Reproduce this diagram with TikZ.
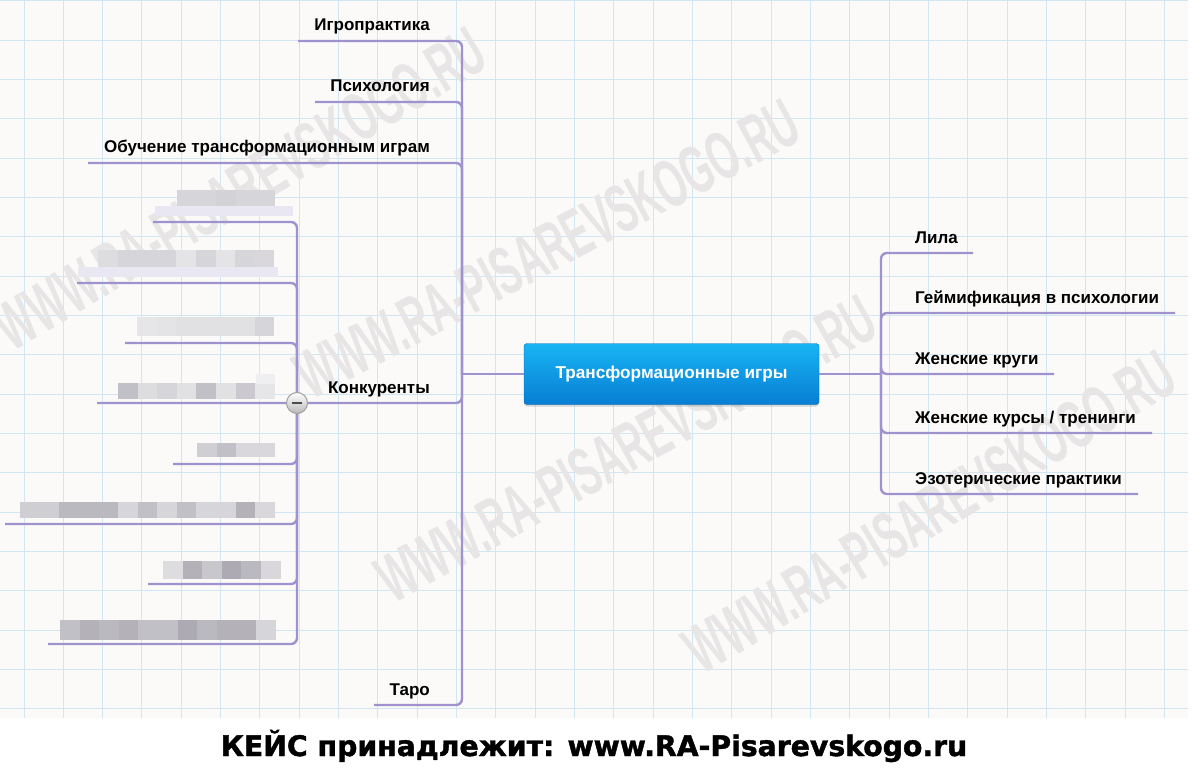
\documentclass[tikz,border=0pt]{standalone}
\usepackage{fontspec}
\setmainfont{Liberation Sans}
\newfontfamily\capfont{DejaVu Sans}[BoldFeatures={FakeBold=1.5}]
\usetikzlibrary{shadows}
\definecolor{gridblue}{RGB}{208,230,243}
\definecolor{paper}{RGB}{251,250,248}
\definecolor{branch}{RGB}{160,146,207}
\definecolor{topblue}{RGB}{24,180,243}
\definecolor{botblue}{RGB}{8,126,212}
\definecolor{wmark}{RGB}{231,229,229}
\definecolor{blurgray}{RGB}{118,114,128}
\definecolor{lavband}{RGB}{233,231,241}
\begin{document}
\begin{tikzpicture}[x=1pt,y=-1pt]

  \tikzset{lbl/.style={font=\bfseries\fontsize{17}{19}\selectfont,inner sep=0pt},
    br/.style={draw=branch,line width=2.4pt,rounded corners=6pt},
    root/.style={draw=botblue!85!black,rounded corners=3pt,top color=topblue,bottom color=botblue,
      minimum width=295pt,minimum height=61pt,text=white,font=\bfseries\fontsize{17.2}{19}\selectfont,
      drop shadow={opacity=0.3,shadow xshift=0pt,shadow yshift=-2pt}},
    minusbtn/.style={circle,minimum size=21pt,inner sep=0pt,draw=gray!75,line width=1pt,
      top color=white,bottom color=gray!55},
    wm/.style={text=wmark,font=\bfseries\fontsize{68}{70}\selectfont,inner sep=0pt}}
  \useasboundingbox (0,0) rectangle (1200,773);

  % paper and grid
  \fill[white] (0,0) rectangle (1200,773);
  \fill[paper] (0,0) rectangle (1188,718);
  \foreach \i in {0,...,29}
    \draw[gridblue,line width=1pt] (24+39.33*\i,0) -- (24+39.33*\i,718);
  \foreach \j in {0,...,18}
    \draw[gridblue,line width=1pt] (0,1+39.33*\j) -- (1188,1+39.33*\j);

  % watermarks
  \foreach \cx/\cy/\ang [count=\k] in {240/189/31,547/249/28,626/449/29,930/512/31}
    \node[wm,rotate=\ang] (wm\k) at (\cx,\cy) {\scalebox{0.56}[1]{WWW.RA-PISAREVSKOGO.RU}};

  % centre
  \node[root] (root) at (671.5,374) {Трансформационные игры};
  \coordinate (hubL) at (462,374);
  \coordinate (hubR) at (881,374);
  \draw[br] (root.west) -- (hubL);
  \draw[br] (root.east) -- (hubR);

  % left side
  \foreach \name/\txt/\y/\x in {igro/Игропрактика/41/298,psy/Психология/102/315,
      obuch/Обучение трансформационным играм/163/88,konk/Конкуренты/403/297,taro/Таро/705/374} {
    \node[lbl,anchor=base east] (\name) at (430,\y-10) {\txt};
    \coordinate (\name-u) at (\x,\y);
    \draw[br] (hubL) |- (\name-u);
  }

  % right side
  \foreach \name/\txt/\y/\x in {lila/Лила/253/973,geim/Геймификация в психологии/313/1175,
      krugi/Женские круги/374/1054,kursy/{Женские курсы / тренинги}/433/1152,
      ezo/Эзотерические практики/494/1138} {
    \node[lbl,anchor=base west] (\name) at (915,\y-10) {\txt};
    \coordinate (\name-u) at (\x,\y);
    \draw[br] (hubR) |- (\name-u);
  }

  % competitors (blurred)
  \foreach \x/\y/\h/\shades in {177/190/16/{30,30,32,30,30},98/250/17/{25,30,30,30,20,30,20,30,28},
      137/317/19/{18,20,22,22,22,22,30},118/383/16/{45,25,30,22,45,22,38,18},
      197/443/14/{35,45,28,28},20/502/16/{35,35,50,50,50,30,45,30,45,30,30,55,28},
      163/561/18/{25,55,40,60,50,28},60/620/20/{45,55,50,55,45,45,60,50,55,55,30}}
    \foreach \s [count=\i from 0] in \shades
      \fill[blurgray!\s] (\x+19.6*\i,\y) rectangle ++(19.6,\h);
  \fill[lavband] (155,206) rectangle (293,216);
  \fill[lavband] (78,267) rectangle (278,277);
  \fill[blurgray!12] (256,374) rectangle (275,384);
  \foreach \k/\y/\x in {1/222/153,2/283/77,3/343/125,4/403/97,5/464/173,6/524/5,7/584/148,8/644/48} {
    \coordinate (comp\k) at (\x,\y);
    \draw[br] (konk-u) |- (comp\k);
  }
  \node[minusbtn] (minus) at (konk-u) {};
  \draw[line width=2.6pt,gray!60!black] ([xshift=-5pt]minus.center) -- ([xshift=5pt]minus.center);

  \node[font=\capfont\bfseries\fontsize{28.3}{30}\selectfont,inner sep=0pt,anchor=base] (caption) at (594,756)
    {КЕЙС принадлежит: www.RA-Pisarevskogo.ru};
\end{tikzpicture}
\end{document}
